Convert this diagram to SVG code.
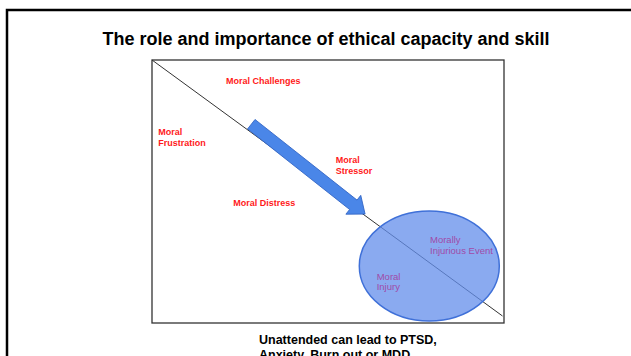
<svg xmlns="http://www.w3.org/2000/svg" width="631" height="356" viewBox="0 0 631 356">
<style>
  .red { font-family: "Liberation Sans", Arial, sans-serif; font-size: 9px; font-weight: bold; fill: #ff1a1a; }
  .purple { font-family: "Liberation Sans", Arial, sans-serif; font-size: 9.5px; fill: #a04aa8; }
  .title { font-family: "Liberation Sans", Arial, sans-serif; font-size: 18px; font-weight: bold; fill: #000; }
  .note { font-family: "Liberation Sans", Arial, sans-serif; font-size: 12.5px; font-weight: bold; fill: #000; }
</style>
<rect x="0" y="0" width="631" height="356" fill="#ffffff"/>
<rect id="frame" x="7" y="10" width="700" height="400" fill="none" stroke="#000" stroke-width="2.5"/>
<text id="title" class="title" x="326" y="45" text-anchor="middle">The role and importance of ethical capacity and skill</text>
<rect id="panel" x="152" y="60" width="352" height="263" fill="#fff" stroke="#333" stroke-width="1.3"/>
<g id="connectors">
  <line x1="152" y1="60" x2="502.5" y2="316" stroke="#333" stroke-width="1"/>
  <polygon id="arrow" points="0,-6 130,-6 130,-12 145,0 130,12 130,6 0,6" transform="translate(251.3,124.2) rotate(38.3)" fill="#4a86e8" stroke="#3265c4" stroke-width="0.8"/>
</g>
<g id="ellipse-node">
  <ellipse cx="429.3" cy="266" rx="70" ry="55" fill="#638eeb" fill-opacity="0.75" stroke="#3f70d8" stroke-width="1.5"/>
</g>
<g id="moral-challenges"><text class="red" x="226" y="84">Moral Challenges</text></g>
<g id="moral-frustration"><text class="red" x="158.3" y="135">Moral</text><text class="red" x="158.3" y="146">Frustration</text></g>
<g id="moral-stressor"><text class="red" x="335.7" y="163">Moral</text><text class="red" x="335.7" y="174">Stressor</text></g>
<g id="moral-distress"><text class="red" x="233.3" y="205.5">Moral Distress</text></g>
<g id="morally-injurious-event"><text class="purple" x="430" y="242.7">Morally</text><text class="purple" x="430" y="253.5">Injurious Event</text></g>
<g id="moral-injury"><text class="purple" x="376.7" y="279.5">Moral</text><text class="purple" x="376.7" y="290">Injury</text></g>
<g id="note"><text class="note" x="259" y="343.5">Unattended can lead to PTSD,</text><text class="note" x="259" y="359">Anxiety, Burn out or MDD</text></g>
</svg>
